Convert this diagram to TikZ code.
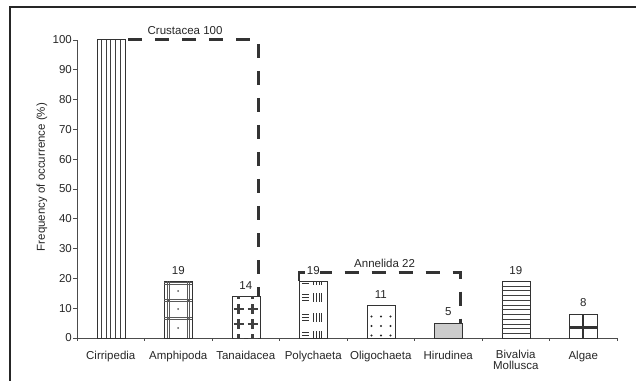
\documentclass[tikz,border=0pt]{standalone}
\usepackage{fontspec}
\setmainfont{Liberation Sans}
\usetikzlibrary{positioning}

\begin{document}
\begin{tikzpicture}[x=67.5pt, y=2.98pt, font=\fontsize{11.5}{13}\selectfont, text=black!85,
    axis/.style={black!70, line width=0.6pt},
    bar/.style={draw=black!80, line width=0.5pt, inner sep=0, minimum width=28pt, anchor=south},
    val/.style={inner sep=0, fill=white},
    cat/.style={inner sep=0, anchor=north, align=center},
    grp/.style={black!80, line width=2.5pt, dash pattern=on 14pt off 13pt},
    cirr/.pic={\begin{scope}[x=1pt, y=1pt, black!75]
        \foreach \k in {1,...,5} \draw (\k*4.67,0) -- (\k*4.67,298);
      \end{scope}},
    amph/.pic={\begin{scope}[x=1pt, y=1pt, black!65]
        \foreach \px in {3,5,23,25} \draw[very thin] (\px,0) -- (\px,56.6);
        \foreach \py in {19,21,36.5,38.5,54,56} \draw[very thin] (0,\py) -- (28,\py);
        \foreach \py in {10,29,47} \fill (14,\py) circle (1pt);
        \foreach \px in {4,24} \foreach \py in {20,37.5} \fill (\px,\py) circle (1.1pt);
      \end{scope}},
    tana/.pic={\begin{scope}[x=1pt, y=1pt, black!75, line width=2.8pt]
        \clip (0,0) rectangle (28,41.7);
        \foreach \px in {7,21} \foreach \py in {-1,14,29,44}
          \draw (\px-5,\py) -- (\px+5,\py) (\px,\py-5) -- (\px,\py+5);
      \end{scope}},
    poly/.pic={\begin{scope}[x=1pt, y=1pt, black!80, line width=0.7pt]
        \clip (0,0) rectangle (28,56.6);
        \foreach \rw in {3,21,41,58} {
          \foreach \dd in {-3,0,3} \draw (3,\rw+\dd) -- (9.5,\rw+\dd);
          \foreach \dd in {0,2.7,5.4,8.1} \draw (14.5+\dd,\rw-4.5) -- (14.5+\dd,\rw+4.5);}
      \end{scope}},
    olig/.pic={\begin{scope}[x=1pt, y=1pt, black!85]
        \foreach \px in {5,14.5,24} \foreach \py in {2.5,12,21.5} \fill (\px,\py) circle (1.1pt);
      \end{scope}},
    biva/.pic={\begin{scope}[x=1pt, y=1pt, black!75]
        \foreach \k in {1,...,11} \draw (0,\k*4.75) -- (28,\k*4.75);
      \end{scope}},
    alga/.pic={\begin{scope}[x=1pt, y=1pt, black!80, line width=2.4pt]
        \draw (0,10.7) -- (28,10.7) (14,0) -- (14,23.8);
      \end{scope}}]
\useasboundingbox (-77pt,-42pt) rectangle (559pt,338pt);
\draw[black!85, line width=1.2pt] (-67pt,-45pt) -- (-67pt,331pt) -- (565pt,331pt);

\draw[axis] (0,0) -- (0,100);
\draw[axis] (0,0) -- (8,0);
\foreach \v in {0,10,...,100} {
  \draw[axis] ([xshift=-4pt]0,\v) -- (0,\v);
  \node[anchor=east, inner sep=0] (y\v) at ([xshift=-5pt]0,\v) {\v};}
\foreach \i in {0,...,8} \draw[axis] (\i,0) -- ([yshift=-3pt]\i,0);
\node[rotate=90] (ylab) at ([xshift=-35pt]0,54) {Frequency of occurrence (\%)};

\node[bar, minimum height=100*2.98pt] (cir) at (0.5,0) {};
\node[bar, minimum height=19*2.98pt] (amp) at (1.5,0) {};
\node[bar, minimum height=14*2.98pt] (tan) at (2.5,0) {};
\node[bar, minimum height=19*2.98pt] (pol) at (3.5,0) {};
\node[bar, minimum height=11*2.98pt] (oli) at (4.5,0) {};
\node[bar, fill=gray!40, minimum height=5*2.98pt] (hir) at (5.5,0) {};
\node[bar, minimum height=19*2.98pt] (biv) at (6.5,0) {};
\node[bar, minimum height=8*2.98pt] (alg) at (7.5,0) {};
\pic (cirp) at (cir.south west) {cirr};
\pic (ampp) at (amp.south west) {amph};
\pic (tanp) at (tan.south west) {tana};
\pic (polp) at (pol.south west) {poly};
\pic (olip) at (oli.south west) {olig};
\pic (bivp) at (biv.south west) {biva};
\pic (algp) at (alg.south west) {alga};

\coordinate (crusc) at ([xshift=-1.5pt]tan.north east);
\coordinate (annc) at ([xshift=-2pt]hir.north east);
\coordinate (anntop) at (0,22);
\draw[grp, shorten <=3pt] (cir.north east)
  -- node[above=2pt, inner sep=2pt, pos=0.45, black!85] (crus) {Crustacea 100} (crusc |- cir.north east)
  -- (crusc);
\draw[grp] (pol.north west) -- (pol.north west |- anntop)
  -- node[above=2pt, inner sep=2pt, pos=0.53, black!85] (anne) {Annelida 22} (annc |- anntop)
  -- (annc);

\node[val, above=6.5pt of amp] (ampv) {19};
\node[val, above=6.5pt of tan] (tanv) {14};
\node[val, above=6.5pt of pol] (polv) {19};
\node[val, above=6.5pt of oli] (oliv) {11};
\node[val, above=6.5pt of hir] (hirv) {5};
\node[val, above=6.5pt of biv] (bivv) {19};
\node[val, above=6.5pt of alg] (algv) {8};

\node[cat, below=13pt of cir.south] (cirl) {Cirripedia};
\node[cat, below=13pt of amp.south] (ampl) {Amphipoda};
\node[cat, below=13pt of tan.south] (tanl) {Tanaidacea};
\node[cat, below=13pt of pol.south] (poll) {Polychaeta};
\node[cat, below=13pt of oli.south] (olil) {Oligochaeta};
\node[cat, below=13pt of hir.south] (hirl) {Hirudinea};
\node[cat, below=12pt of biv.south] (bivl) {Bivalvia\\[-2pt]Mollusca};
\node[cat, below=13pt of alg.south] (algl) {Algae};
\end{tikzpicture}
\end{document}
